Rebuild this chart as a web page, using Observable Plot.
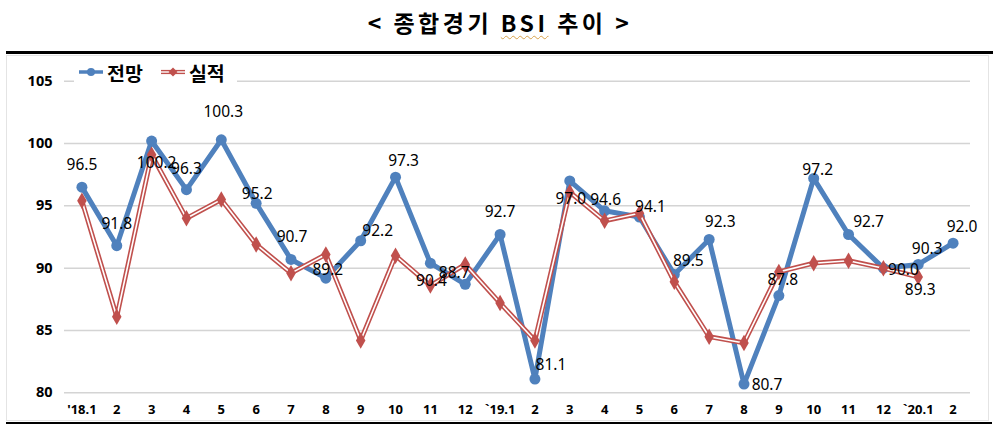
<!DOCTYPE html>
<html><head><meta charset="utf-8">
<script src="https://cdn.jsdelivr.net/npm/d3@7"></script>
<script src="https://cdn.jsdelivr.net/npm/@observablehq/plot@0.6"></script>
<style>
body{margin:0;background:#fff;width:1000px;height:433px;overflow:hidden;position:relative;font-family:"Noto Sans","Noto Sans CJK KR",sans-serif;}
#title{position:absolute;left:0;top:0;width:1000px;height:44px;line-height:44px;text-align:center;font-family:"Noto Sans CJK KR",sans-serif;font-weight:700;font-size:23px;letter-spacing:3.5px;color:#000;}
#title .bsi{text-decoration:underline wavy #d8a24a;text-decoration-thickness:1px;text-underline-offset:3px;}
#topRule{position:absolute;left:6px;top:51px;width:987px;height:3px;background:#000;}
#botRule{position:absolute;left:6px;top:422px;width:986px;height:2px;background:#000;}
#frame{position:absolute;left:6px;top:55px;width:981px;height:364px;border:1px solid #e4e4e4;}
#chart{position:absolute;left:0;top:54px;}
#legend{position:absolute;left:74px;top:59px;height:26px;padding:0 4px;background:#fff;display:flex;align-items:center;font-family:"Noto Sans CJK KR",sans-serif;font-weight:700;font-size:19.5px;color:#000;}
#legend .item{display:flex;align-items:center;margin-right:17px;}
#legend .item:last-child{margin-right:8px;}
#legend svg{display:block;margin-right:3px;}
</style>
</head><body>
<div id="title">&lt; 종합경기 <span class="bsi">BSI</span> 추이 &gt;</div>
<div id="topRule"></div>
<div id="frame"></div>
<div id="chart"></div>
<div id="legend"></div>
<div id="botRule"></div>
<script>
const months = ["'18.1","2","3","4","5","6","7","8","9","10","11","12","`19.1","2","3","4","5","6","7","8","9","10","11","12","`20.1","2"];
const forecast = [96.5,91.8,100.2,96.3,100.3,95.2,90.7,89.2,92.2,97.3,90.4,88.7,92.7,81.1,97.0,94.6,94.1,89.5,92.3,80.7,87.8,97.2,92.7,90.0,90.3,92.0];
const actual = [95.4,86.1,99.1,94.0,95.5,91.9,89.6,91.1,84.2,91.0,88.6,90.3,87.2,84.2,96.1,93.8,94.4,88.9,84.5,84.0,89.7,90.4,90.6,90.0,89.3,null];
const yTicks = [80,85,90,95,100,105];
const seriesNames = ["전망","실적"];
const actualLabelIndex = [24];

// label placement offsets (px) relative to each forecast point
const labelDx = [0,0,5,0,2,1,1,2,17,8,1,-11,0,16,1,1,11,14,11,23,4,4,20,20,9,9];
const labelDy = [-22,-22,22,-21,-28,-9,-22,-8,-10,-16,18,-11,-22,-14,18,-11,-10,-13,-17,1,-16,-8,-12,2,-15,-16];
const actualLabelDx = [2];
const actualLabelDy = [13];

const blue = "#4f81bd", red = "#c0504d";
const rows = months.map((m,i)=>({i, m, f: forecast[i], a: actual[i]}));
const rowsA = rows.filter(d => d.a != null);

const labelMarks = rows.map((d,k) => Plot.text([d], {x:"i", y:"f", text: d => d.f.toFixed(1), dx: labelDx[k], dy: labelDy[k], fill:"#000", fontSize:15.5}));
const actualLabelMarks = actualLabelIndex.map((idx,k) => Plot.text([rows[idx]], {x:"i", y:"a", text: d => d.a.toFixed(1), dx: actualLabelDx[k], dy: actualLabelDy[k], fill:"#000", fontSize:15.5}));

const chart = Plot.plot({
  width: 1000, height: 367,
  marginLeft: 64, marginRight: 30, marginTop: 26.7, marginBottom: 28.7,
  style: {fontFamily: '"Noto Sans","Noto Sans CJK KR",sans-serif', background: "transparent", overflow: "visible"},
  x: {type: "point", domain: d3.range(months.length), padding: 0.5, round: false, label: null},
  y: {domain: [80,105], label: null},
  marks: [
    Plot.gridY(yTicks, {stroke: "#d4d4d4", strokeOpacity: 1, strokeWidth: 1.5}),
    Plot.axisY(yTicks, {tickSize: 0, tickPadding: 12, fontSize: 14.5, fontWeight: "bold", fill: "#000", label: null}),
    Plot.axisX({tickSize: 0, tickPadding: 12, fontSize: 13, fontWeight: "bold", fill: "#000", tickFormat: i => months[i], label: null}),
    Plot.line(rows, {x: "i", y: "f", stroke: blue, strokeWidth: 5, strokeLinejoin: "round"}),
    Plot.dot(rows, {x: "i", y: "f", r: 5.5, fill: blue}),
    Plot.line(rowsA, {x: "i", y: "a", stroke: red, strokeWidth: 4.8, strokeLinejoin: "miter"}),
    Plot.line(rowsA, {x: "i", y: "a", stroke: "#fff", strokeWidth: 1.6, strokeLinejoin: "miter"}),
    Plot.dot(rowsA, {x: "i", y: "a", symbol: "diamond", r: 5, fill: red}),
    ...labelMarks,
    ...actualLabelMarks
  ]
});
document.getElementById("chart").appendChild(chart);

// legend
const lg = document.getElementById("legend");
function swatch(kind){
  const s = d3.create("svg").attr("width", 26).attr("height", 14);
  if (kind === 0) {
    s.append("line").attr("x1",1).attr("x2",25).attr("y1",7).attr("y2",7).attr("stroke",blue).attr("stroke-width",3.5);
    s.append("circle").attr("cx",13).attr("cy",7).attr("r",4).attr("fill",blue);
  } else {
    s.append("line").attr("x1",1).attr("x2",25).attr("y1",7).attr("y2",7).attr("stroke",red).attr("stroke-width",4.2);
    s.append("line").attr("x1",1).attr("x2",25).attr("y1",7).attr("y2",7).attr("stroke","#fff").attr("stroke-width",1.4);
    s.append("path").attr("d","M13,2.5L17.5,7L13,11.5L8.5,7Z").attr("fill",red);
  }
  return s.node();
}
seriesNames.forEach((n,k)=>{
  const it = document.createElement("div"); it.className = "item";
  it.appendChild(swatch(k));
  const t = document.createElement("span"); t.textContent = n; it.appendChild(t);
  lg.appendChild(it);
});
</script>
</body></html>
